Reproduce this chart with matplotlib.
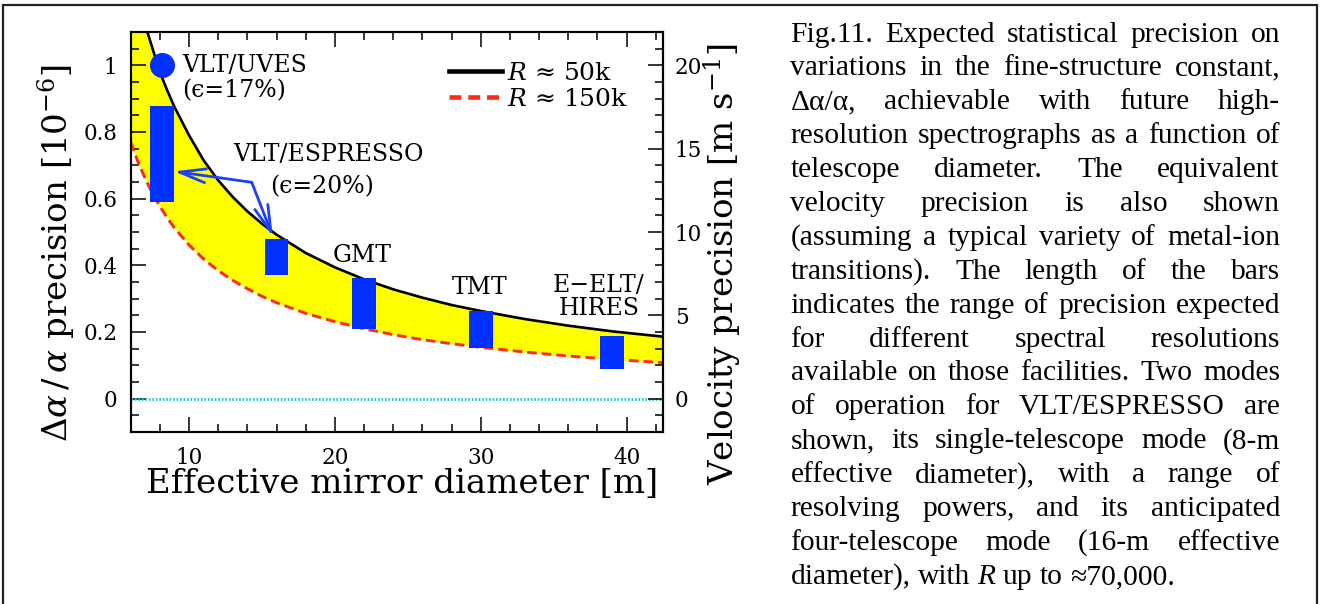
import matplotlib
matplotlib.use("Agg")
import matplotlib.pyplot as plt
from matplotlib.ticker import MultipleLocator, FuncFormatter
from matplotlib.lines import Line2D
from matplotlib.patches import Rectangle

# ---------------- data ----------------
curve_D = [6.0, 6.5, 7.0, 7.5, 8.0, 8.5, 9.0, 10.0, 11.0, 12.0, 13.0, 14.0, 15.0,
           16.0, 18.0, 20.0, 22.0, 24.0, 26.0, 28.0, 30.0, 33.0, 36.0, 39.0, 42.5]
prec_50k = [1.31, 1.21, 1.12, 1.05, 0.98, 0.925, 0.875, 0.79, 0.715, 0.655, 0.605, 0.562, 0.525,
            0.492, 0.437, 0.394, 0.358, 0.328, 0.303, 0.281, 0.263, 0.239, 0.219, 0.202, 0.186]
prec_150k = [0.77, 0.71, 0.66, 0.615, 0.577, 0.543, 0.512, 0.461, 0.419, 0.384, 0.355, 0.33, 0.307,
             0.288, 0.256, 0.231, 0.21, 0.192, 0.177, 0.165, 0.154, 0.14, 0.128, 0.118, 0.108]

bar_D = [8.15, 16.0, 22.0, 30.0, 39.0]
bar_low = [0.59, 0.37, 0.21, 0.153, 0.09]
bar_high = [0.877, 0.479, 0.362, 0.264, 0.189]

uves_D = [8.15]
uves_prec = [1.0]

legend_labels = ["$R$ \u2248 50k", "$R$ \u2248 150k"]

caption_lines = [
    "Fig.11. Expected statistical precision on",
    "variations in the fine-structure constant,",
    "\u0394\u03b1/\u03b1, achievable with future high-",
    "resolution spectrographs as a function of",
    "telescope diameter. The equivalent",
    "velocity precision is also shown",
    "(assuming a typical variety of metal-ion",
    "transitions). The length of the bars",
    "indicates the range of precision expected",
    "for different spectral resolutions",
    "available on those facilities. Two modes",
    "of operation for VLT/ESPRESSO are",
    "shown, its single-telescope mode (8-m",
    "effective diameter), with a range of",
    "resolving powers, and its anticipated",
    "four-telescope mode (16-m effective",
]
caption_last = ["diameter),", "with", "*R", "up", "to", "\u224870,000."]

# ---------------- style ----------------
plt.rcParams['font.family'] = ['DejaVu Serif', 'DejaVu Sans']
plt.rcParams['mathtext.fontset'] = 'dejavuserif'

W, H = 1324, 604
fig = plt.figure(figsize=(W / 100, H / 100), dpi=100)

ax_l, ax_r, ax_t, ax_b = 130.7, 663.0, 32.0, 432.0
ax = fig.add_axes([ax_l / W, 1 - ax_b / H, (ax_r - ax_l) / W, (ax_b - ax_t) / H])

black = '#000000'
red = '#ff2a14'
yellow = '#ffff00'
blue = '#0030ff'
arrow_blue = '#1a40ff'
cyan = '#20c8c8'

ax.fill_between(curve_D, prec_150k, prec_50k, color=yellow, lw=0, zorder=1)
ax.plot(curve_D, prec_50k, color=black, lw=1.9, zorder=3)
ax.plot(curve_D, prec_150k, color=red, lw=2.1, ls=(0, (3.3, 1.7)), zorder=3)
ax.axhline(0, color=cyan, lw=2.0, ls=(0, (0.6, 0.65)), zorder=2)

heights = [h - l for h, l in zip(bar_high, bar_low)]
ax.bar(bar_D, heights, bottom=bar_low, width=1.62, color=blue, zorder=4)
ax.plot(uves_D, uves_prec, 'o', color=blue, markersize=17, zorder=4)

# arrows for ESPRESSO
vertex = (14.3, 0.649)
for tip in [(8.97, 0.682), (15.75, 0.486)]:
    ax.annotate('', xy=tip, xytext=vertex,
                arrowprops=dict(arrowstyle='->,head_length=1.9,head_width=0.5',
                                color=arrow_blue, lw=2.0, shrinkA=0, shrinkB=0),
                zorder=5)

tfs = 17
ax.text(9.53, 1.0, "VLT/UVES", fontsize=tfs, ha='left', va='center', zorder=6)
ax.text(9.56, 0.923, "(\u03f5=17%)", fontsize=tfs, ha='left', va='center', zorder=6)
ax.text(13.0, 0.733, "VLT/ESPRESSO", fontsize=tfs, ha='left', va='center', zorder=6)
ax.text(15.55, 0.636, "(\u03f5=20%)", fontsize=tfs, ha='left', va='center', zorder=6)
ax.text(21.9, 0.428, "GMT", fontsize=tfs, ha='center', va='center', zorder=6)
ax.text(29.9, 0.332, "TMT", fontsize=tfs, ha='center', va='center', zorder=6)
ax.text(38.1, 0.306, "E\u2212ELT/\nHIRES", fontsize=tfs, ha='center', va='center',
        multialignment='center', linespacing=1.0, zorder=6)

handles = [Line2D([], [], color=black, lw=3.3),
           Line2D([], [], color=red, lw=3.3, ls=(0, (2.6, 1.5)))]
ax.legend(handles, legend_labels, loc='upper left', bbox_to_anchor=(0.598, 0.925),
          frameon=False, fontsize=18, handlelength=2.12, handletextpad=0.2,
          labelspacing=0.1, borderpad=0, borderaxespad=0)

ax.set_xlim(6, 42.5)
ax.set_ylim(-0.1, 1.1)
ax.xaxis.set_major_locator(MultipleLocator(10))
ax.xaxis.set_minor_locator(MultipleLocator(2))
ax.yaxis.set_major_locator(MultipleLocator(0.2))
ax.yaxis.set_minor_locator(MultipleLocator(0.05))
ax.yaxis.set_major_formatter(FuncFormatter(lambda v, p: ('%g' % round(v, 3))))

for s in ax.spines.values():
    s.set_linewidth(1.5)
ax.tick_params(which='both', direction='in', top=True, right=False, width=1.1)
ax.tick_params(which='major', length=11)
ax.tick_params(which='minor', length=5.5)
ax.tick_params(axis='x', which='major', labelsize=15.5, pad=10.5)
ax.tick_params(axis='y', which='major', labelsize=15.5, pad=9.5)

ax2 = ax.twinx()
ax2.set_ylim(-2, 22)
ax2.yaxis.set_major_locator(MultipleLocator(5))
ax2.yaxis.set_minor_locator(MultipleLocator(1))
ax2.tick_params(which='both', direction='in', width=1.1)
ax2.tick_params(which='major', length=11, labelsize=15.5, pad=8.5)
ax2.tick_params(which='minor', length=5.5)
for s in ax2.spines.values():
    s.set_linewidth(1.5)

ax.set_xlabel("Effective mirror diameter [m]", fontsize=24.5)
ax.xaxis.set_label_coords(0.51, -0.13)
ax.xaxis.label.set_va('center')
ax.set_ylabel("$\\Delta\\alpha\\,/\\,\\alpha$ precision [10$^{-6}$]", fontsize=24.5)
ax.yaxis.set_label_coords(-0.138, 0.4475)
ax.yaxis.label.set_va('center')
ax2.set_ylabel("Velocity precision [m s$^{-1}$]", fontsize=24.5)
ax2.yaxis.set_label_coords(1.113, 0.42)
ax2.yaxis.label.set_va('center')

# outer frame (open at the bottom edge of the image)
fig.add_artist(Rectangle((3 / W, -0.05), (1317 - 3) / W, 1.05 - 5 / H,
                         transform=fig.transFigure, fill=False, lw=1.6,
                         edgecolor='#222222'))

# ---------------- caption (justified) ----------------
cap_family = ['Liberation Serif', 'DejaVu Serif']
fig.canvas.draw()
renderer = fig.canvas.get_renderer()


def tw(s, fs, style='normal'):
    t = fig.text(0, 0, s, fontsize=fs, family=cap_family, style=style)
    w = t.get_window_extent(renderer).width
    t.remove()
    return w


def wlen(word, fs):
    if word.startswith('*'):
        return tw(word[1:], fs, 'italic')
    return tw(word, fs)


base_fs = 17.0
space0 = tw("a a", base_fs) - tw("aa", base_fs)
nat = sum(wlen(w, base_fs) for w in caption_last) + space0 * (len(caption_last) - 1)
cap_fs = base_fs * 384.0 / nat
space = tw("a a", cap_fs) - tw("aa", cap_fs)

x0, x1 = 790.5, 1280.0
y0, dy = 41.5, 33.9


def put(word, x, y):
    style = 'normal'
    if word.startswith('*'):
        word = word[1:]
        style = 'italic'
    fig.text(x / W, 1 - y / H, word, fontsize=cap_fs, family=cap_family, style=style,
             ha='left', va='baseline')


for i, line in enumerate(caption_lines):
    words = line.split(' ')
    widths = [wlen(w, cap_fs) for w in words]
    gap = (x1 - x0 - sum(widths)) / (len(words) - 1)
    x = x0
    y = y0 + i * dy
    for w, wd in zip(words, widths):
        put(w, x, y)
        x += wd + gap

x = x0
y = y0 + len(caption_lines) * dy
for w in caption_last:
    put(w, x, y)
    x += wlen(w, cap_fs) + space

fig.savefig("out.png", dpi=100)
